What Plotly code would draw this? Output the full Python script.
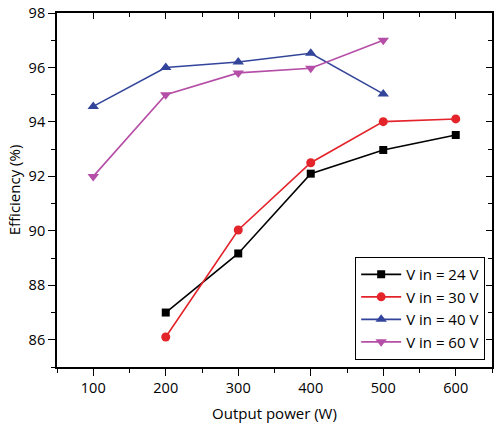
import plotly.graph_objects as go

power_40 = [100, 200, 300, 400, 500]
eff_40 = [94.57, 96.0, 96.2, 96.52, 95.03]
power_60 = [100, 200, 300, 400, 500]
eff_60 = [92.0, 95.0, 95.8, 95.97, 97.0]
power_30 = [200, 300, 400, 500, 600]
eff_30 = [86.1, 90.03, 92.5, 94.01, 94.11]
power_24 = [200, 300, 400, 500, 600]
eff_24 = [87.0, 89.17, 92.1, 92.97, 93.52]

FONT = "Open Sans"

fig = go.Figure()
series = [
    ("V in = 24 V", power_24, eff_24, "#000000", "square", 8),
    ("V in = 30 V", power_30, eff_30, "#e4242b", "circle", 9),
    ("V in = 40 V", power_40, eff_40, "#33459b", "triangle-up", 10),
    ("V in = 60 V", power_60, eff_60, "#b54ea6", "triangle-down", 10),
]
for name, x, y, c, sym, sz in series:
    fig.add_trace(go.Scatter(x=x, y=y, name=name, mode="lines+markers",
                             line=dict(color=c, width=1.6),
                             marker=dict(symbol=sym, size=sz, color=c)))

# dummy trace for mirrored (inward-tick) axes
fig.add_trace(go.Scatter(x=[None], y=[None], xaxis="x2", yaxis="y2",
                         showlegend=False, hoverinfo="skip"))

fig.update_layout(
    width=496, height=427,
    margin=dict(l=57, r=4, t=13, b=60, autoexpand=False),
    paper_bgcolor="white", plot_bgcolor="white",
    font=dict(family=FONT, size=15, color="black"),
    xaxis=dict(range=[50, 650], dtick=100, tick0=0, ticks="outside", ticklen=7,
               tickwidth=1.2, tickcolor="black", showgrid=False, zeroline=False,
               showline=True, linecolor="black", linewidth=1.8, mirror=True,
               minor=dict(dtick=50, ticks="outside", ticklen=4, tickcolor="black"),
               tickfont=dict(size=14.5),
               title=dict(text="Output power (W)", font=dict(size=15), standoff=12),
               automargin=False),
    yaxis=dict(range=[85, 98], dtick=2, tick0=0, ticks="outside", ticklen=7,
               tickwidth=1.2, tickcolor="black", showgrid=False, zeroline=False,
               showline=True, linecolor="black", linewidth=1.8, mirror=True,
               minor=dict(dtick=1, ticks="outside", ticklen=4, tickcolor="black"),
               tickfont=dict(size=14.5),
               title=dict(text="Efficiency (%)", font=dict(size=15), standoff=4),
               automargin=False),
    xaxis2=dict(range=[50, 650], dtick=100, tick0=0, ticks="inside", ticklen=6,
                tickwidth=1.2, tickcolor="black", showgrid=False, zeroline=False,
                showline=False, overlaying="x", side="top", anchor="y2",
                showticklabels=False,
                minor=dict(dtick=50, ticks="inside", ticklen=4, tickcolor="black")),
    yaxis2=dict(range=[85, 98], dtick=2, tick0=0, ticks="inside", ticklen=6,
                tickwidth=1.2, tickcolor="black", showgrid=False, zeroline=False,
                showline=False, overlaying="y", side="right", anchor="x2",
                showticklabels=False,
                minor=dict(dtick=1, ticks="inside", ticklen=4, tickcolor="black")),
    legend=dict(x=0.685, y=0.311, xanchor="left", yanchor="top",
                bgcolor="white", bordercolor="black", borderwidth=1.2,
                font=dict(size=15), tracegroupgap=0, itemwidth=40),
    showlegend=True,
)

fig.write_html("out.html", config={"displayModeBar": False},
               post_script="document.body.style.margin='0';document.body.style.padding='0';")
